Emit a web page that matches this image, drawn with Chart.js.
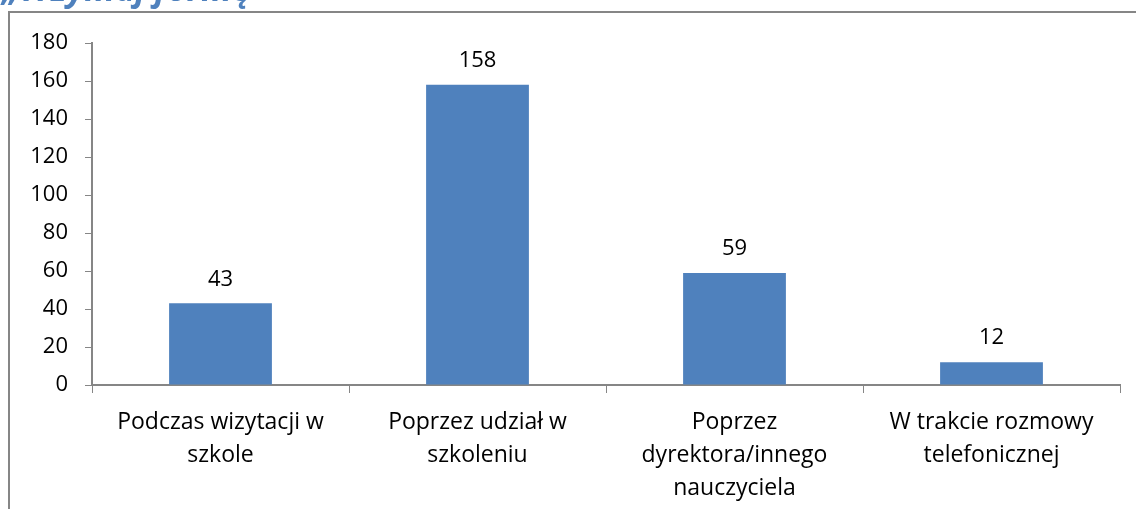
<!DOCTYPE html>
<html>
<head>
<meta charset="utf-8">
<script src="https://cdn.jsdelivr.net/npm/chart.js@4.4.0/dist/chart.umd.min.js"></script>
<style>
    html, body { margin: 0; padding: 0; background: #ffffff; }
    #wrap { width: 1136px; height: 509px; position: relative; }
</style>
</head>
<body>
<div id="wrap"><canvas id="barChart" width="1136" height="509"></canvas></div>
<script>
const categories = [
    ["Podczas wizytacji w", "szkole"],
    ["Poprzez udział w", "szkoleniu"],
    ["Poprzez", "dyrektora/innego", "nauczyciela"],
    ["W trakcie rozmowy", "telefonicznej"],
];
const values = [43, 158, 59, 12];
const yTicks = [0, 20, 40, 60, 80, 100, 120, 140, 160, 180];
const titleText = "„Trzymaj formę”";

const fontFamily = "'Open Sans', Lato, sans-serif";
const axisGray = "#868686";
const barBlue = "#4F81BD";

// frame around the chart and the cut-off heading above it
const framePlugin = {
    id: "frame",
    beforeDraw(chart) {
        const ctx = chart.ctx;
        ctx.save();
        ctx.fillStyle = "#ffffff";
        ctx.fillRect(0, 0, chart.width, chart.height);
        ctx.strokeStyle = axisGray;
        ctx.lineWidth = 2;
        ctx.beginPath();
        ctx.moveTo(9, chart.height);
        ctx.lineTo(9, 12);
        ctx.lineTo(chart.width, 12);
        ctx.stroke();
        ctx.fillStyle = barBlue;
        ctx.font = "italic bold 34px " + fontFamily;
        ctx.textBaseline = "alphabetic";
        ctx.fillText(titleText, 2, 1);
        ctx.restore();
    },
};

// value labels above each bar
const valueLabels = {
    id: "valueLabels",
    afterDatasetsDraw(chart) {
        const ctx = chart.ctx;
        const meta = chart.getDatasetMeta(0);
        ctx.save();
        ctx.fillStyle = "#000000";
        ctx.font = "22px " + fontFamily;
        ctx.textAlign = "center";
        ctx.textBaseline = "middle";
        meta.data.forEach((bar, i) => {
            ctx.fillText(String(values[i]), bar.x, bar.y - 24);
        });
        ctx.restore();
    },
};

const chart = new Chart(document.getElementById("barChart"), {
    type: "bar",
    data: {
        labels: categories,
        datasets: [
            {
                data: values,
                backgroundColor: barBlue,
                borderWidth: 0,
                barPercentage: 0.4,
                categoryPercentage: 1,
            },
        ],
    },
    options: {
        responsive: false,
        animation: false,
        layout: { padding: { top: 43, right: 16, left: 0, bottom: 0 } },
        plugins: {
            legend: { display: false },
            tooltip: { enabled: false },
        },
        scales: {
            x: {
                offset: true,
                afterFit: (scale) => { scale.height = 124; },
                grid: {
                    offset: true,
                    drawOnChartArea: false,
                    drawTicks: true,
                    tickLength: 8,
                    color: axisGray,
                },
                border: { color: axisGray, width: 2 },
                ticks: {
                    color: "#000000",
                    padding: 13,
                    maxRotation: 0,
                    autoSkip: false,
                    font: { family: fontFamily, size: 23, lineHeight: 1.44 },
                },
            },
            y: {
                min: 0,
                max: 180,
                afterFit: (scale) => { scale.width = 92; },
                afterBuildTicks: (scale) => {
                    scale.ticks = yTicks.map((v) => ({ value: v }));
                },
                grid: {
                    drawOnChartArea: false,
                    drawTicks: true,
                    tickLength: 7,
                    color: axisGray,
                },
                border: { color: axisGray, width: 2 },
                ticks: {
                    color: "#000000",
                    padding: 17,
                    font: { family: fontFamily, size: 22 },
                },
            },
        },
    },
    plugins: [framePlugin, valueLabels],
});
</script>
</body>
</html>
